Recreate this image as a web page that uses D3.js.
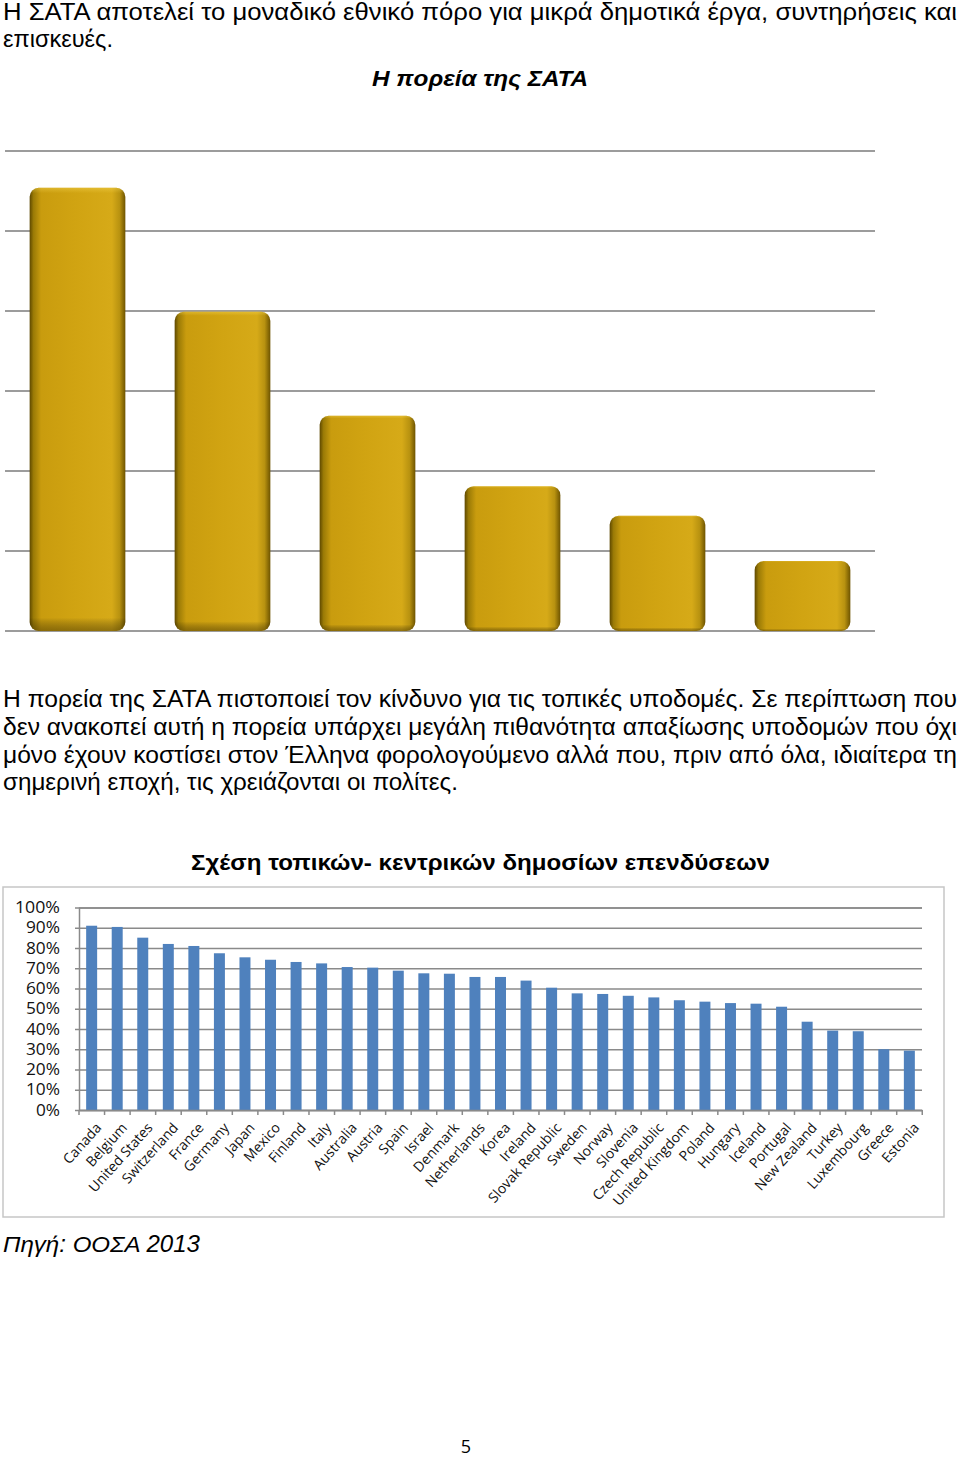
<!DOCTYPE html>
<html>
<head>
<meta charset="utf-8">
<script src="https://cdn.jsdelivr.net/npm/d3@7"></script>
<style>
  body { margin: 0; background: #fff; }
  svg { display: block; }
</style>
</head>
<body>
<div id="page"></div>
<script>
// first chart: course of SATA (no axis labels in the source, values in grid units)
const sataYears = ['2009', '2010', '2011', '2012', '2013', '2014'];
const sataValues = [5.54, 3.99, 2.69, 1.81, 1.44, 0.875];
const sataTicks = [0, 1, 2, 3, 4, 5, 6];

// second chart: local share of public investment, OECD 2013
const countries = ['Canada', 'Belgium', 'United States', 'Switzerland', 'France', 'Germany',
  'Japan', 'Mexico', 'Finland', 'Italy', 'Australia', 'Austria', 'Spain', 'Israel', 'Denmark',
  'Netherlands', 'Korea', 'Ireland', 'Slovak Republic', 'Sweden', 'Norway', 'Slovenia',
  'Czech Republic', 'United Kingdom', 'Poland', 'Hungary', 'Iceland', 'Portugal',
  'New Zealand', 'Turkey', 'Luxembourg', 'Greece', 'Estonia'];
const localShare = [0.91, 0.904, 0.851, 0.82, 0.81, 0.774, 0.754, 0.742, 0.731, 0.724, 0.706,
  0.703, 0.688, 0.675, 0.673, 0.657, 0.657, 0.639, 0.604, 0.576, 0.573, 0.564, 0.556, 0.542,
  0.535, 0.528, 0.525, 0.51, 0.436, 0.392, 0.389, 0.30, 0.293];
const shareTicks = [0, 0.1, 0.2, 0.3, 0.4, 0.5, 0.6, 0.7, 0.8, 0.9, 1];

const topText = [
  'Η ΣΑΤΑ αποτελεί το μοναδικό εθνικό πόρο για μικρά δημοτικά έργα, συντηρήσεις και',
  'επισκευές.'
];
const bodyText = [
  'Η πορεία της ΣΑΤΑ πιστοποιεί τον κίνδυνο για τις τοπικές υποδομές. Σε περίπτωση που',
  'δεν ανακοπεί αυτή η πορεία υπάρχει μεγάλη πιθανότητα απαξίωσης υποδομών που όχι',
  'μόνο έχουν κοστίσει στον Έλληνα φορολογούμενο αλλά που, πριν από όλα,  ιδιαίτερα τη',
  'σημερινή εποχή, τις χρειάζονται οι πολίτες.'
];

const W = 960, H = 1461;
const svg = d3.select('#page').append('svg')
  .attr('width', W)
  .attr('height', H)
  .attr('viewBox', [0, 0, W, H].join(' '));

const narrow = "'Liberation Sans Narrow', 'Liberation Sans', Arial, sans-serif";
const arial = "'Liberation Sans', Arial, sans-serif";
const calibri = "'Open Sans', Lato, sans-serif";

// text line helper: squeezes to a given width like the narrow font of the source
function line(x, y, str, width, opts = {}) {
  const t = svg.append('text')
    .attr('x', x)
    .attr('y', y)
    .style('font-family', opts.family || narrow)
    .style('font-size', (opts.size || 23) + 'px')
    .style('font-weight', opts.weight || 'normal')
    .style('font-style', opts.style || 'normal')
    .attr('fill', '#000')
    .text(str);
  if (width) {
    t.attr('textLength', width).attr('lengthAdjust', 'spacingAndGlyphs');
  }
  return t;
}

line(3, 20, topText[0], 954);
line(3, 47, topText[1], 110);
line(372, 86, 'Η πορεία της ΣΑΤΑ', 216, { family: arial, weight: 'bold', style: 'italic', size: 23 });

// ---- chart 1 ----
const defs = svg.append('defs');
const gold = defs.append('linearGradient').attr('id', 'goldH').attr('x1', 0).attr('x2', 1).attr('y1', 0).attr('y2', 0);
[[0, '#5e4800'], [0.04, '#9a7a06'], [0.12, '#c99c0e'], [0.5, '#d1a412'], [0.86, '#d6aa18'], [0.94, '#b89210'], [1, '#6e5400']]
  .forEach(([o, c]) => gold.append('stop').attr('offset', o).attr('stop-color', c));
const shade = defs.append('linearGradient').attr('id', 'goldV').attr('x1', 0).attr('x2', 0).attr('y1', 0).attr('y2', 1);
[[0, '#ffe060', 0.35], [0.012, '#ffe060', 0.0], [0.97, '#000', 0], [1, '#3a2c00', 0.45]]
  .forEach(([o, c, a]) => shade.append('stop').attr('offset', o).attr('stop-color', c).attr('stop-opacity', a));

const x1 = d3.scaleBand().domain(sataYears).range([5, 875]).paddingInner(0.34).paddingOuter(0.17);
const y1 = d3.scaleLinear().domain([0, 6]).range([631, 151]);

svg.append('g')
  .selectAll('line')
  .data(sataTicks)
  .join('line')
  .attr('x1', 5)
  .attr('x2', 875)
  .attr('y1', (d) => y1(d))
  .attr('y2', (d) => y1(d))
  .attr('stroke', '#9c9c9c')
  .attr('stroke-width', 2);

const bars1 = svg.append('g');
bars1.selectAll('rect.base')
  .data(sataValues)
  .join('rect')
  .attr('class', 'base')
  .attr('x', (d, i) => x1(sataYears[i]))
  .attr('y', (d) => y1(d))
  .attr('width', x1.bandwidth())
  .attr('height', (d) => y1(0) - y1(d))
  .attr('rx', 9)
  .attr('fill', 'url(#goldH)');
bars1.selectAll('rect.shade')
  .data(sataValues)
  .join('rect')
  .attr('class', 'shade')
  .attr('x', (d, i) => x1(sataYears[i]))
  .attr('y', (d) => y1(d))
  .attr('width', x1.bandwidth())
  .attr('height', (d) => y1(0) - y1(d))
  .attr('rx', 9)
  .attr('fill', 'url(#goldV)');

bodyText.forEach((s, i) => {
  line(3, 707 + i * 27.8, s, i < 3 ? 954 : 455);
});

// ---- chart 2 ----
svg.append('rect')
  .attr('x', 3)
  .attr('y', 887)
  .attr('width', 941)
  .attr('height', 330)
  .attr('fill', '#fff')
  .attr('stroke', '#c6c6c6')
  .attr('stroke-width', 1.5);

line(191, 870, 'Σχέση τοπικών- κεντρικών δημοσίων επενδύσεων', 579, { family: arial, weight: 'bold', size: 22 });

const x2 = d3.scaleBand().domain(countries).range([79, 922]).paddingInner(0.57).paddingOuter(0.28);
const y2 = d3.scaleLinear().domain([0, 1]).range([1110, 907.5]);

const yAxis = svg.append('g')
  .attr('transform', 'translate(79,0)')
  .call(d3.axisLeft(y2).tickValues(shareTicks).tickFormat(d3.format('.0%')).tickSize(-843).tickPadding(19));
yAxis.select('.domain').attr('stroke', '#8a8a8a').attr('stroke-width', 1.5);
yAxis.selectAll('.tick line').attr('stroke', '#8a8a8a').attr('stroke-width', 1.5);
yAxis.selectAll('.tick text')
  .style('font-family', calibri)
  .style('font-size', '16px')
  .attr('fill', '#111')
  .attr('textLength', (d) => (d === 1 ? 45 : d === 0 ? 24 : 34))
  .attr('lengthAdjust', 'spacingAndGlyphs');
// small left tick marks
yAxis.selectAll('.tick').append('line')
  .attr('x1', -4).attr('x2', 0)
  .attr('stroke', '#8a8a8a').attr('stroke-width', 1.5);

svg.append('g')
  .selectAll('rect')
  .data(localShare)
  .join('rect')
  .attr('x', (d, i) => x2(countries[i]))
  .attr('y', (d) => y2(d))
  .attr('width', x2.bandwidth())
  .attr('height', (d) => y2(0) - y2(d))
  .attr('fill', '#4f81bd');

const xAxis = svg.append('g')
  .attr('transform', 'translate(0,1110)')
  .call(d3.axisBottom(x2).tickSize(0).tickPadding(0));
xAxis.select('.domain').attr('stroke', '#8a8a8a').attr('stroke-width', 1.5);
xAxis.selectAll('.tick text')
  .style('font-family', calibri)
  .style('font-size', '14px')
  .attr('fill', '#111')
  .attr('text-anchor', 'end')
  .attr('dy', '0.35em')
  .attr('transform', 'translate(7,15) rotate(-48)');

// tick marks between categories
const step = x2.step();
svg.append('g')
  .selectAll('line')
  .data(d3.range(countries.length + 1))
  .join('line')
  .attr('x1', (d) => 79 + d * step)
  .attr('x2', (d) => 79 + d * step)
  .attr('y1', 1110)
  .attr('y2', 1115)
  .attr('stroke', '#8a8a8a')
  .attr('stroke-width', 1.5);

line(3, 1252, 'Πηγή: ΟΟΣΑ 2013', 197, { family: arial, style: 'italic', size: 23 });

svg.append('text')
  .attr('x', 466)
  .attr('y', 1453)
  .attr('text-anchor', 'middle')
  .style('font-family', calibri)
  .style('font-size', '18px')
  .text('5');
</script>
</body>
</html>
